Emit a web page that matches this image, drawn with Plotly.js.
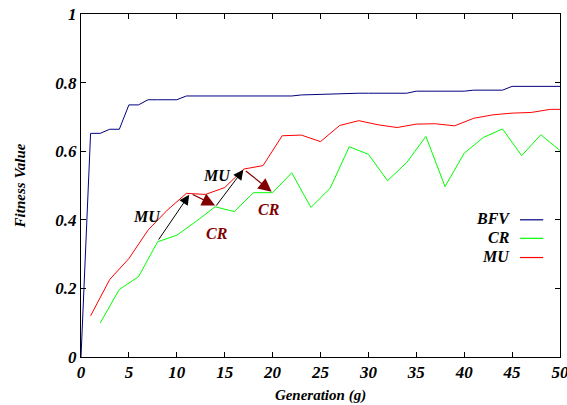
<!DOCTYPE html>
<html>
<head>
<meta charset="utf-8">
<script src="https://cdn.plot.ly/plotly-3.0.1.min.js"></script>
<style>html,body{margin:0;padding:0;background:#fff;}#chart{width:567px;height:405px;}</style>
</head>
<body>
<div id="chart"></div>
<script>
// BFV: every generation 0..50
const bfvX = [0,1,2,3,4,5,6,7,8,9,10,11,12,13,14,15,16,17,18,19,20,21,22,23,24,25,26,27,28,29,30,31,32,33,34,35,36,37,38,39,40,41,42,43,44,45,46,47,48,49,50];
const bfvY = [0,0.652,0.652,0.664,0.664,0.735,0.735,0.75,0.75,0.75,0.75,0.761,0.761,0.761,0.761,0.761,0.761,0.761,0.761,0.761,0.761,0.761,0.761,0.764,0.765,0.767,0.768,0.769,0.769,0.769,0.769,0.769,0.769,0.769,0.769,0.775,0.775,0.775,0.775,0.775,0.775,0.778,0.778,0.778,0.778,0.789,0.789,0.789,0.789,0.789,0.789];
// CR: even generations
const crX = [2,4,6,8,10,12,14,16,18,20,22,24,26,28,30,32,34,36,38,40,42,44,46,48,50];
const crY = [0.099,0.197,0.234,0.336,0.355,0.395,0.438,0.424,0.479,0.479,0.537,0.436,0.492,0.613,0.591,0.514,0.567,0.643,0.497,0.594,0.64,0.665,0.587,0.648,0.602];
// MU: odd generations (+ end at 50)
const muX = [1,3,5,7,9,11,13,15,17,19,21,23,25,27,29,31,33,35,37,39,41,43,45,47,49,50];
const muY = [0.12,0.226,0.287,0.37,0.428,0.477,0.474,0.494,0.548,0.558,0.645,0.647,0.628,0.675,0.689,0.677,0.669,0.679,0.68,0.674,0.696,0.706,0.711,0.713,0.722,0.722];

const seriesNames = ['BFV','CR','MU'];
const seriesColors = ['#000080','#00ff00','#ff0000'];

const xTickVals = [0,5,10,15,20,25,30,35,40,45,50];
const xTickText = ['0','5','10','15','20','25','30','35','40','45','50'];
const yTickVals = [0,0.2,0.4,0.6,0.8,1];
const yTickText = ['0','0.2','0.4','0.6','0.8','1'];

// Operator arrows: [fromX, fromY, toX, toY]
const muArrows = [[8.0,0.338,11.3,0.473],[14.0,0.437,16.95,0.546]];
const crArrows = [[11.5,0.476,14.0,0.442],[17.05,0.546,19.9,0.482]];
const muLabels = [[6.85,0.41],[14.15,0.528]];
const crLabels = [[14.15,0.36],[19.66,0.431]];

const FAM = 'Liberation Serif, DejaVu Serif, serif';
function fnt(size, color){ return {family:FAM, weight:'bold', style:'italic', size:size, color:color||'#000'}; }
const bi = t => '<b><i>' + t + '</i></b>';

const traces = [
  {x:bfvX, y:bfvY, name:seriesNames[0], mode:'lines', line:{color:seriesColors[0], width:1}},
  {x:crX, y:crY, name:seriesNames[1], mode:'lines', line:{color:seriesColors[1], width:1}},
  {x:muX, y:muY, name:seriesNames[2], mode:'lines', line:{color:seriesColors[2], width:1}}
];

const annotations = [];
muArrows.forEach(a => annotations.push({x:a[2], y:a[3], ax:a[0], ay:a[1], xref:'x', yref:'y', axref:'x', ayref:'y', text:'', showarrow:true, arrowhead:2, arrowsize:2, arrowwidth:1, arrowcolor:'#000'}));
crArrows.forEach(a => annotations.push({x:a[2], y:a[3], ax:a[0], ay:a[1], xref:'x', yref:'y', axref:'x', ayref:'y', text:'', showarrow:true, arrowhead:2, arrowsize:2.2, arrowwidth:1.2, arrowcolor:'#800000'}));
muLabels.forEach(p => annotations.push({x:p[0], y:p[1], xref:'x', yref:'y', text:'MU', showarrow:false, font:fnt(16,'#000')}));
crLabels.forEach(p => annotations.push({x:p[0], y:p[1], xref:'x', yref:'y', text:'CR', showarrow:false, font:fnt(16,'#800000')}));

// manual legend (text left of the sample line)
const legY = [0.40, 0.346, 0.29];
const shapes = [];
seriesNames.forEach((n,i) => {
  annotations.push({x:0.90, y:legY[i]+0.003, xref:'paper', yref:'paper', xanchor:'right', yanchor:'middle', text:n, showarrow:false, font:fnt(16)});
  shapes.push({type:'line', xref:'paper', yref:'paper', x0:0.9165, x1:0.965, y0:legY[i], y1:legY[i], line:{color:seriesColors[i], width:1.2}});
});

const layout = {
  width:567, height:405,
  margin:{l:81, r:7, t:14, b:48},
  paper_bgcolor:'#fff', plot_bgcolor:'#fff',
  showlegend:false,
  font:{family:FAM, weight:'bold', style:'italic', size:16, color:'#000'},
  xaxis:{range:[0,50], tickmode:'array', tickvals:xTickVals, ticktext:xTickText.map(bi),
    ticks:'inside', ticklen:5, tickcolor:'#000', showline:true, linecolor:'#000', linewidth:1, mirror:'ticks', showgrid:false, zeroline:false,
    ticklabeloverflow:'allow', tickfont:fnt(17),
    title:{text:'Generation (g)', font:fnt(15), standoff:8}},
  yaxis:{range:[0,1], tickmode:'array', tickvals:yTickVals, ticktext:yTickText.map(bi),
    ticks:'inside', ticklen:5, tickcolor:'#000', showline:true, linecolor:'#000', linewidth:1, mirror:'ticks', showgrid:false, zeroline:false,
    tickfont:fnt(17),
    title:{text:'Fitness Value', font:fnt(15), standoff:26}},
  annotations:annotations,
  shapes:shapes
};

Plotly.newPlot('chart', traces, layout, {staticPlot:true, displayModeBar:false});
</script>
</body>
</html>
